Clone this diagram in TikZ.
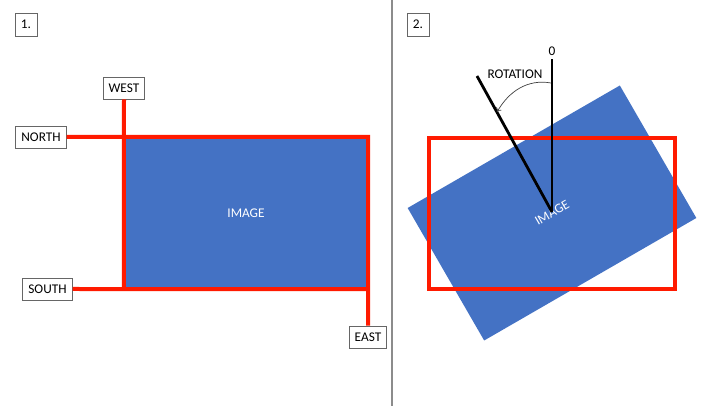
\documentclass[tikz,border=0pt]{standalone}
\usepackage{fontspec}
\setmainfont{Carlito}
\usetikzlibrary{arrows.meta}
\definecolor{imgblue}{HTML}{4472C4}
\definecolor{framered}{HTML}{FF1A00}
\tikzset{
  lbl/.style={draw=black!60, line width=0.8pt, fill=white, font=\fontsize{13.3}{16}\selectfont,
              inner xsep=5.5pt, inner ysep=0pt, minimum height=22pt, text height=9pt, text depth=0pt},
  numbox/.style={lbl, minimum width=22pt, minimum height=23pt, inner xsep=2pt},
  imagebox/.style={fill=imgblue, text=white, font=\fontsize{13.3}{16}\selectfont, inner sep=0pt},
  redline/.style={draw=framered, line width=4pt},
  blackline/.style={draw=black, line width=2.8pt},
  rotarrow/.style={draw=black!75, line width=0.7pt, -{To[length=4pt,width=6pt]}},
  divider/.style={draw=black!45, line width=1.3pt}
}
\begin{document}
\begin{tikzpicture}[x=1pt,y=1pt]
\useasboundingbox (0,0) rectangle (720,406);
\fill[white] (0,0) rectangle (720,406);
% divider
\coordinate (dtop) at (392,406);
\coordinate (dbot) at (392,0);
\draw[divider] (dtop) -- (dbot);

% ---------- panel 1 ----------
\node[numbox] (n1) at (26,381.5) {1.};
\node[imagebox, minimum width=244pt, minimum height=152pt] (img1) at (246,193) {IMAGE};
\node[lbl] (west) at (124,318) {WEST};
\node[lbl] (north) at (41,269) {NORTH};
\node[lbl] (south) at (47.5,117) {SOUTH};
\node[lbl] (east) at (368,69) {EAST};
\draw[redline] (west.south) -- (img1.south west);
\draw[redline, line join=miter] (north.east) -- (img1.north east) -- (east.north);
\draw[redline] (south.east) -- (img1.south east);

% ---------- panel 2 ----------
\node[numbox] (n2) at (418,381.5) {2.};
\node[imagebox, rotate=30, minimum width=245pt, minimum height=153pt] (img2) at (552,193) {IMAGE};
\node[draw=framered, line width=4pt, minimum width=246pt, minimum height=151pt, inner sep=0pt] (frame) at (552,192.5) {};
\node[font=\fontsize{13.3}{16}\selectfont, inner sep=0pt] (zero) at (552,355) {0};
\node[font=\fontsize{13.3}{16}\selectfont, inner sep=0pt] (rot) at (515,332) {ROTATION};
\coordinate (ztop) at (552,347);
\coordinate (rtop) at (477,330);
\coordinate (piv) at (552,194);
\draw[blackline] (piv) -- (ztop);
\draw[blackline] (piv) -- (rtop);
\coordinate (astart) at (551,323);
\coordinate (aend) at (497,294);
\draw[rotarrow] (astart) to[out=170,in=60] (aend);
\end{tikzpicture}
\end{document}
